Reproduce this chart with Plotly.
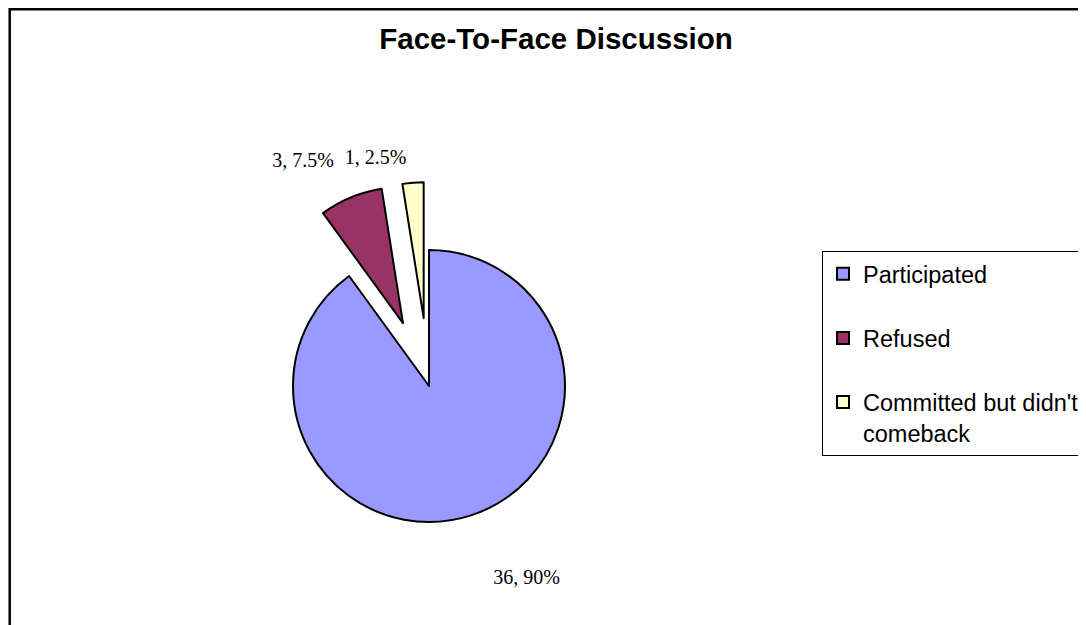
import plotly.graph_objects as go

# ---- data ----
categories = ["Participated", "Refused", "Committed but didn't comeback"]
counts = [36, 3, 1]
colors = ["#9999FF", "#993366", "#FFFFCC"]
pulls = [0, 0.5, 0.5]
title_text = "Face-To-Face Discussion"

# legend display names (wrapped like the original legend)
wrapped = {
    "Participated": "Participated<br> ",
    "Refused": "Refused<br> ",
    "Committed but didn't comeback": "Committed but didn't<br>comeback",
}
display_labels = [wrapped[c] for c in categories]

# style: radius (px) of the transparent pie that carries each slice's data label
label_radius = [190, 156, 146]

W, H = 1086, 625
OX, OY = 8, 8  # page (body) margin offset of the figure

# pie geometry (page px)
CX, CY, R = 429 - OX, 386 - OY, 136


def domain_for(half):
    return dict(x=[(CX - half) / W, (CX + half) / W],
                y=[(H - CY - half) / H, (H - CY + half) / H])


label_font = dict(family="Liberation Serif", size=20, color="black")

fig = go.Figure()
# main pie (no text)
fig.add_trace(
    go.Pie(
        labels=display_labels,
        values=counts,
        sort=False,
        direction="clockwise",
        rotation=0,
        pull=pulls,
        marker=dict(colors=colors, line=dict(color="black", width=2)),
        textinfo="none",
        hoverinfo="skip",
        domain=domain_for(R * (1 + max(pulls))),
    )
)
# transparent overlay pies, one per data label
for i in range(len(counts)):
    own_pull = [pulls[j] if j == i else 0 for j in range(len(counts))]
    tmpl = ["%{value}, %{percent}" if j == i else "" for j in range(len(counts))]
    fig.add_trace(
        go.Pie(
            labels=display_labels,
            values=counts,
            sort=False,
            direction="clockwise",
            rotation=0,
            pull=own_pull,
            marker=dict(colors=["rgba(0,0,0,0)"] * len(counts),
                        line=dict(color="rgba(0,0,0,0)", width=0)),
            texttemplate=tmpl,
            textposition="outside",
            textfont=label_font,
            hoverinfo="skip",
            showlegend=False,
            domain=domain_for(label_radius[i] * (1 + pulls[i])),
        )
    )

fig.update_layout(
    width=W,
    height=H,
    margin=dict(l=0, r=0, t=0, b=0, autoexpand=False),
    paper_bgcolor="white",
    plot_bgcolor="white",
    title=dict(
        text="<b>" + title_text + "</b>",
        x=(556 - OX) / W,
        xref="container",
        xanchor="center",
        y=1 - (39 - OY) / H,
        yref="container",
        yanchor="middle",
        font=dict(family="Liberation Sans", size=29.5, color="black"),
    ),
    legend=dict(
        x=(822 - OX) / W,
        xanchor="left",
        y=1 - (251 - OY) / H,
        yanchor="top",
        bordercolor="black",
        borderwidth=1,
        bgcolor="white",
        font=dict(family="Liberation Sans", size=23.5, color="black"),
        valign="top",
    ),
    shapes=[
        dict(
            type="rect",
            xref="paper",
            yref="paper",
            x0=(9.7 - OX) / W,
            x1=1.1,
            y0=-0.1,
            y1=1 - 1.25 / H,
            line=dict(color="black", width=2.5),
            fillcolor="rgba(0,0,0,0)",
            layer="below",
        )
    ],
)

fig.write_html("out.html", config={"displayModeBar": False})
